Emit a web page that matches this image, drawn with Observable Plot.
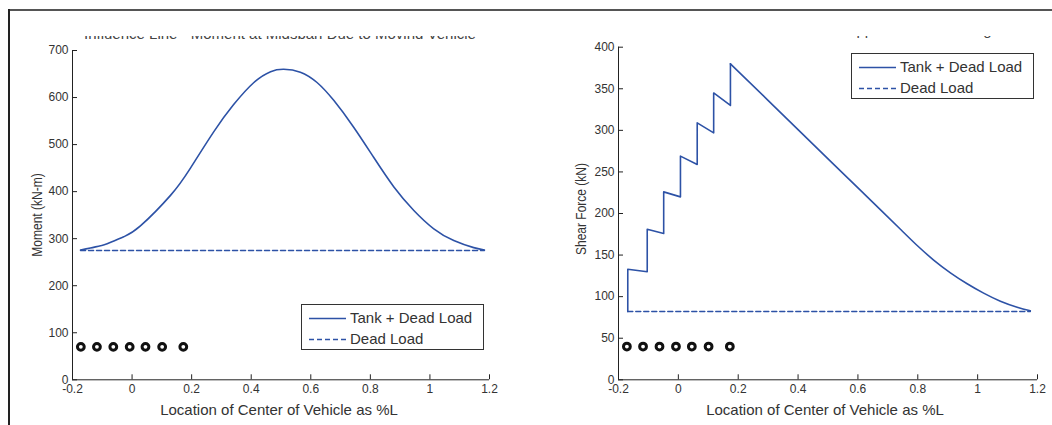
<!DOCTYPE html>
<html><head><meta charset="utf-8">
<script src="https://cdn.jsdelivr.net/npm/d3@7"></script>
<script src="https://cdn.jsdelivr.net/npm/@observablehq/plot@0.6"></script>
<style>
body{margin:0;background:#fff;}
#wrap{position:relative;width:1052px;height:425px;overflow:hidden;font-family:"Liberation Sans",Arial,sans-serif;color:#333;background:#fff;}
.abs{position:absolute;}
.clip{position:absolute;overflow:hidden;}
.clip span{position:absolute;left:0;white-space:nowrap;font-size:15px;line-height:15px;color:#444;}
.lab{position:absolute;white-space:nowrap;font-size:15px;line-height:15px;transform:translate(-50%,-50%);}
.ylab{position:absolute;white-space:nowrap;font-size:15px;line-height:15px;transform:translate(-50%,-50%) rotate(-90deg) scaleX(0.8);}
.legend{position:absolute;border:1px solid #333;background:#fff;box-sizing:border-box;}
.legend .row{position:absolute;left:0;height:20px;font-size:15px;line-height:20px;white-space:nowrap;}
.legend svg{position:absolute;top:0;}
</style></head><body><div id="wrap"></div>
<script>
// ---------- data ----------
const xDomain = [-0.2, 1.2];
const xTicks = [-0.2, 0, 0.2, 0.4, 0.6, 0.8, 1, 1.2];
const momentTicks = [0, 100, 200, 300, 400, 500, 600, 700];
const shearTicks = [0, 50, 100, 150, 200, 250, 300, 350, 400];

const titles = ["Influence Line - Moment at Midspan Due to Moving Vehicle",
                "Influence Line - Shear Force at Support Due to Moving Vehicle"];
const xLabel = "Location of Center of Vehicle as %L";
const yLabels = ["Moment (kN-m)", "Shear Force (kN)"];
const seriesNames = ["Tank + Dead Load", "Dead Load"];

// Moment at midspan (Tank + Dead Load)
const momentX = [-0.173, -0.140, -0.106, -0.0835, -0.028, 0.028, 0.129, 0.196, 0.274, 0.341, 0.409, 0.465, 0.509, 0.565, 0.621, 0.677, 0.744, 0.811, 0.879, 0.946, 1.013, 1.080, 1.147, 1.183];
const momentY = [276, 280, 285, 289, 304, 327, 392, 450, 527, 585, 632, 655, 660, 654, 632, 594, 537, 473, 410, 360, 321, 296, 281, 276];
// Moment dead load
const momentDeadX = [-0.173, 1.183];
const momentDeadY = [275, 275];

// Shear at support (Tank + Dead Load)
const shearX = [-0.169, -0.169, -0.104, -0.104, -0.049, -0.049, 0.007, 0.007, 0.063, 0.063, 0.118, 0.118, 0.174, 0.174, 0.297, 0.519, 0.631, 0.742, 0.798, 0.853, 0.909, 0.965, 1.020, 1.076, 1.132, 1.176];
const shearY = [82, 133, 130, 181, 176, 226, 220, 269, 259, 309, 297, 345, 330, 380, 337, 259, 220, 181, 161.5, 144, 128.7, 115.5, 104.2, 94.5, 87.3, 83];
// Shear dead load
const shearDeadX = [-0.169, 1.176];
const shearDeadY = [82, 82];

// Wheel positions of the vehicle
const wheelX = [-0.172, -0.118, -0.063, -0.008, 0.045, 0.101, 0.172];
const momentWheelY = 70;
const shearWheelY = 40;

// ---------- drawing ----------
const blue = "#2d52a6";
const wrap = document.getElementById("wrap");
const fmt = d => String(+d.toFixed(1));
const pts = (xs, ys) => xs.map((x, i) => ({x, y: ys[i]}));

function panel(cfg) {
  const all = pts(cfg.lx, cfg.ly);
  const lineMarks = [];
  if (cfg.splitAtPeak) {
    const peak = cfg.ly.indexOf(Math.max(...cfg.ly));
    lineMarks.push(Plot.line(all.slice(0, peak + 1), {x: "x", y: "y", stroke: blue, strokeWidth: 1.6}));
    lineMarks.push(Plot.line(all.slice(peak), {x: "x", y: "y", stroke: blue, strokeWidth: 1.6, curve: "natural"}));
  } else {
    lineMarks.push(Plot.line(all, {x: "x", y: "y", stroke: blue, strokeWidth: 1.6, curve: "natural"}));
  }
  const svg = Plot.plot({
    width: 526, height: 425,
    marginLeft: cfg.ml, marginRight: cfg.mr, marginTop: cfg.mt, marginBottom: cfg.mb,
    style: {fontFamily: '"Liberation Sans", Arial, sans-serif', fontSize: "12px", background: "transparent", overflow: "visible", color: "#222"},
    x: {domain: xDomain},
    y: {domain: [cfg.yTicks[0], cfg.yTicks[cfg.yTicks.length - 1]]},
    marks: [
      Plot.ruleX([xDomain[0]], {stroke: "#222"}),
      Plot.ruleY([cfg.yTicks[0]], {stroke: "#222"}),
      Plot.axisX({ticks: xTicks, tickSize: -5, tickPadding: 9.5, tickFormat: fmt, label: null, fill: "#333", fontSize: 12}),
      Plot.axisY({ticks: cfg.yTicks, tickSize: -5, tickPadding: 9, tickFormat: fmt, label: null, fill: "#333", fontSize: 12}),
      Plot.line(pts(cfg.deadX, cfg.deadY), {x: "x", y: "y", stroke: blue, strokeWidth: 1.5, strokeDasharray: "5,3"}),
      ...lineMarks,
      Plot.dot(wheelX, {x: d => d, y: () => cfg.wheelY, r: 3.4, stroke: "#111", strokeWidth: 3, fill: "#fff"})
    ]
  });
  svg.style.position = "absolute";
  svg.style.left = cfg.left + "px";
  svg.style.top = "0px";
  wrap.appendChild(svg);

  // title (clipped, as in the reference)
  const tc = document.createElement("div");
  tc.className = "clip";
  tc.style.left = cfg.left + "px"; tc.style.width = "526px";
  tc.style.top = cfg.titleClipTop + "px"; tc.style.height = cfg.titleClipH + "px";
  const ts = document.createElement("span");
  ts.textContent = cfg.title;
  ts.style.top = cfg.titleOff + "px";
  tc.appendChild(ts);
  wrap.appendChild(tc);
  ts.style.left = (cfg.titleCx - ts.offsetWidth / 2) + "px";

  // x label
  const xl = document.createElement("div");
  xl.className = "lab"; xl.textContent = xLabel;
  xl.style.left = (cfg.left + cfg.xlCx) + "px"; xl.style.top = cfg.xlCy + "px";
  wrap.appendChild(xl);
  // y label
  const yl = document.createElement("div");
  yl.className = "ylab"; yl.textContent = cfg.yLabel;
  yl.style.left = (cfg.left + cfg.ylCx) + "px"; yl.style.top = cfg.ylCy + "px";
  wrap.appendChild(yl);

  // legend
  const lg = document.createElement("div");
  lg.className = "legend";
  lg.style.left = (cfg.left + cfg.lgX) + "px"; lg.style.top = cfg.lgY + "px";
  lg.style.width = "183px"; lg.style.height = "46px";
  seriesNames.forEach((name, i) => {
    const row = document.createElement("div");
    row.className = "row";
    row.style.top = (3 + i * 21) + "px";
    row.innerHTML = `<svg width="45" height="20" style="left:6px"><line x1="1" x2="38" y1="10.5" y2="10.5" stroke="${blue}" stroke-width="1.6" ${i ? 'stroke-dasharray="5,3"' : ''}/></svg><span style="position:absolute;left:48px">${name}</span>`;
    lg.appendChild(row);
  });
  wrap.appendChild(lg);
}

panel({left: 0, ml: 72, mr: 37, mt: 50, mb: 45.7, yTicks: momentTicks,
  lx: momentX, ly: momentY, deadX: momentDeadX, deadY: momentDeadY, splitAtPeak: false, wheelY: momentWheelY,
  title: titles[0], titleCx: 280, titleClipTop: 36, titleClipH: 3, titleOff: -10.5,
  xlCx: 279, xlCy: 409, yLabel: yLabels[0], ylCx: 36, ylCy: 215,
  lgX: 301, lgY: 304});

panel({left: 526, ml: 92, mr: 15, mt: 46.7, mb: 45.7, yTicks: shearTicks,
  lx: shearX, ly: shearY, deadX: shearDeadX, deadY: shearDeadY, splitAtPeak: true, wheelY: shearWheelY,
  title: titles[1], titleCx: 310, titleClipTop: 35.5, titleClipH: 3.5, titleOff: -13.5,
  xlCx: 299, xlCy: 409, yLabel: yLabels[1], ylCx: 53.5, ylCy: 209,
  lgX: 325, lgY: 52.5});

// figure frame edges
const frameTop = document.createElement("div");
frameTop.className = "abs";
Object.assign(frameTop.style, {left: "8px", top: "9px", width: "1044px", height: "2px", background: "#555"});
wrap.appendChild(frameTop);
const frameLeft = document.createElement("div");
frameLeft.className = "abs";
Object.assign(frameLeft.style, {left: "8px", top: "9px", width: "2px", height: "416px", background: "#222"});
wrap.appendChild(frameLeft);
</script></body></html>
